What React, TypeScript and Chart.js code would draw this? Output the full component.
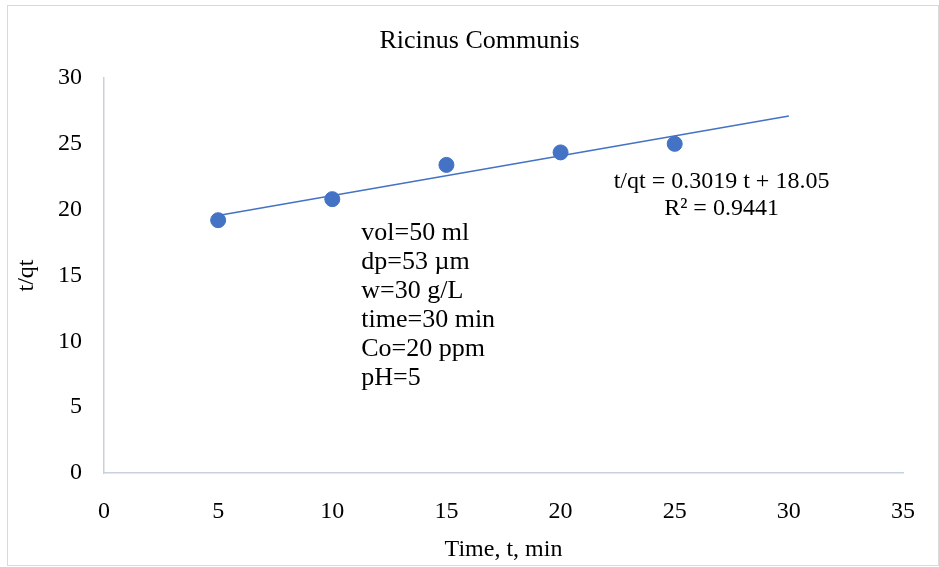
import React, { useEffect, useRef } from "react";
import { Chart, registerables } from "chart.js";

Chart.register(...registerables);

const chartTitle = "Ricinus Communis";
const xAxisTitle = "Time, t, min";
const yAxisTitle = "t/qt";

const timeValues = [5, 10, 15, 20, 25];
const tqtValues = [19.2, 20.8, 23.4, 24.35, 25.0];

const trendX = [5, 30];
const trendY = [19.56, 27.11];

const equationLines = ["t/qt = 0.3019 t + 18.05", "R² = 0.9441"];
const conditionLines = ["vol=50 ml", "dp=53 µm", "w=30 g/L", "time=30 min", "Co=20 ppm", "pH=5"];

// anchor positions (data coordinates)
const conditionAnchor = { x: 11.27, y: 17.7 };
const equationAnchor = { x: 27.05, y: 21.65 };

const xMin = 0, xMax = 35, xStep = 5;
const yMin = 0, yMax = 30, yStep = 5;

const FONT = "'Liberation Serif', 'Times New Roman', serif";
const BLUE = "#4472C4";

const decorPlugin = {
  id: "decor",
  beforeDraw(chart: any) {
    const ctx = chart.ctx;
    ctx.save();
    ctx.fillStyle = "#ffffff";
    ctx.fillRect(0, 0, chart.width, chart.height);
    ctx.strokeStyle = "#d9d9d9";
    ctx.lineWidth = 1;
    ctx.strokeRect(7.5, 5.5, chart.width - 8, chart.height - 7);
    ctx.restore();
  },
  afterDraw(chart: any) {
    const ctx = chart.ctx;
    const xs = chart.scales.x;
    const ys = chart.scales.y;
    ctx.save();
    ctx.fillStyle = "#000000";
    // title
    ctx.font = `26px ${FONT}`;
    ctx.textAlign = "center";
    ctx.textBaseline = "alphabetic";
    ctx.fillText(chartTitle, chart.width / 2 + 10, 48);
    // conditions
    ctx.font = `26px ${FONT}`;
    ctx.textAlign = "left";
    const cx = xs.getPixelForValue(conditionAnchor.x);
    const cy = ys.getPixelForValue(conditionAnchor.y);
    conditionLines.forEach((t, i) => ctx.fillText(t, cx, cy + i * 29));
    // equation
    ctx.font = `24px ${FONT}`;
    ctx.textAlign = "center";
    const ex = xs.getPixelForValue(equationAnchor.x);
    const ey = ys.getPixelForValue(equationAnchor.y);
    equationLines.forEach((t, i) => ctx.fillText(t, ex, ey + i * 27));
    ctx.restore();
  },
};

export default function App() {
  const ref = useRef<HTMLCanvasElement | null>(null);
  useEffect(() => {
    document.body.style.margin = "0";
    const canvas = ref.current!;
    const chart = new Chart(canvas, {
      type: "scatter",
      data: {
        datasets: [
          {
            label: "t/qt",
            data: timeValues.map((x, i) => ({ x, y: tqtValues[i] })),
            backgroundColor: BLUE,
            borderColor: BLUE,
            pointRadius: 7.5,
            pointBorderWidth: 1,
            order: 0,
          },
          {
            label: "Linear",
            data: trendX.map((x, i) => ({ x, y: trendY[i] })),
            showLine: true,
            borderColor: BLUE,
            borderWidth: 1.5,
            pointRadius: 0,
            order: 1,
          } as any,
        ],
      },
      options: {
        responsive: false,
        animation: false,
        devicePixelRatio: 1,
        layout: { padding: { left: 8, top: 78, right: 34, bottom: 0 } },
        plugins: {
          legend: { display: false },
          title: { display: false },
          tooltip: { enabled: false },
        },
        scales: {
          x: {
            type: "linear",
            min: xMin,
            max: xMax,
            ticks: { stepSize: xStep, padding: 24, color: "#000", font: { family: FONT, size: 24 } },
            grid: { display: false, drawTicks: false },
            border: { display: true, color: "#c9d1de", width: 1.5 },
            title: {
              display: true,
              text: xAxisTitle,
              color: "#000",
              font: { family: FONT, size: 24 },
              padding: { top: 0, bottom: 3 },
            },
            afterFit: (s: any) => {
              s.height = 94;
            },
          },
          y: {
            type: "linear",
            min: yMin,
            max: yMax,
            ticks: { stepSize: yStep, padding: 22, color: "#000", font: { family: FONT, size: 24 } },
            grid: { display: false, drawTicks: false },
            border: { display: true, color: "#c9d1de", width: 1.5 },
            title: {
              display: true,
              text: yAxisTitle,
              color: "#000",
              font: { family: FONT, size: 24 },
              padding: { top: 4, bottom: 0 },
            },
            afterFit: (s: any) => {
              s.width = 96;
            },
          },
        },
      },
      plugins: [decorPlugin],
    });
    return () => chart.destroy();
  }, []);
  return (
    <div style={{ position: "absolute", left: 0, top: 0, width: 939, height: 567 }}>
      <canvas ref={ref} width={939} height={567} style={{ width: 939, height: 567 }} />
    </div>
  );
}
